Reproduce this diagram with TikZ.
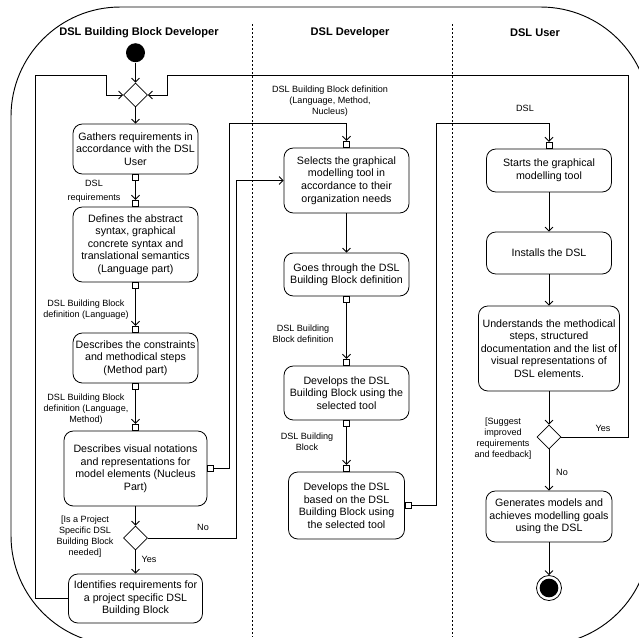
\documentclass[tikz,border=0pt]{standalone}
\usepackage{fontspec}
\setmainfont{Liberation Sans}
\usetikzlibrary{shapes.geometric,arrows.meta}

\begin{document}
\begin{tikzpicture}[x=0.75pt,y=-0.75pt,line width=0.6pt,
  >={Straight Barb[length=3pt,width=6pt]},
  act/.style={draw,rounded corners=7pt,align=center,inner sep=1pt,font=\fontsize{8}{9.4}\selectfont},
  pinbox/.style={draw,fill=white,minimum size=4.5pt,inner sep=0pt},
  decision/.style={draw,diamond,minimum size=18pt,inner sep=0pt},
  lbl/.style={align=center,font=\fontsize{6.8}{8.3}\selectfont},
  lane/.style={font=\bfseries\fontsize{8.3}{10}\selectfont},
  divider/.style={line width=0.5pt,dash pattern=on 1.5pt off 1.5pt}]
\useasboundingbox (0,0) rectangle (639,637);
\begin{scope}
\clip (0,0) rectangle (639,637);
\draw[line width=0.7pt,rounded corners=82pt] (11,7) rectangle (650,645);
\end{scope}
\draw[divider] (252.7,24) -- (252.7,637);
\draw[divider] (452.7,24) -- (452.7,637);
\node[lane] (laneBB) at (139,33) {DSL Building Block Developer};
\node[lane] (laneDev) at (350,33) {DSL Developer};
\node[lane] (laneUser) at (535,33) {DSL User};

% DSL Building Block Developer
\node[circle,fill,minimum size=14.25pt,inner sep=0pt] (start) at (135.5,52.7) {};
\node[decision] (merge) at (135.5,95) {};
\node[act,minimum width=93.75pt,minimum height=37.5pt] (gather) at (135.5,149) {Gathers requirements in\\accordance with the DSL\\User};
\node[act,minimum width=93.75pt,minimum height=56.25pt] (define) at (135.5,244.5) {Defines the abstract\\syntax, graphical\\concrete syntax and\\translational semantics\\(Language part)};
\node[act,minimum width=93.75pt,minimum height=37.5pt] (constr) at (135.5,358) {Describes the constraints\\and methodical steps\\(Method part)};
\node[act,minimum width=107.25pt,minimum height=56.25pt] (visual) at (135.5,468.5) {Describes visual notations\\and representations for\\model elements (Nucleus\\Part)};
\node[decision] (needed) at (135.5,538) {};
\node[act,minimum width=100.5pt,minimum height=36.75pt] (identify) at (135.5,598.5) {Identifies requirements for\\a project specific DSL\\Building Block};

\node[pinbox,anchor=north] (gatherOut) at (gather.south) {};
\node[pinbox,anchor=south] (defineIn) at (define.north) {};
\node[pinbox,anchor=north] (defineOut) at (define.south) {};
\node[pinbox,anchor=south] (constrIn) at (constr.north) {};
\node[pinbox,anchor=north] (constrOut) at (constr.south) {};
\node[pinbox,anchor=south] (visualIn) at (visual.north) {};
\node[pinbox,anchor=west] (visualOut) at (visual.east) {};

% DSL Developer
\node[act,minimum width=93.75pt,minimum height=48.75pt] (select) at (346.5,180.5) {Selects the graphical\\modelling tool in\\accordance to their\\organization needs};
\node[act,minimum width=93.75pt,minimum height=32.25pt] (goes) at (346.5,274.5) {Goes through the DSL\\Building Block definition};
\node[act,minimum width=93.75pt,minimum height=40.5pt] (devBB) at (346.5,393) {Develops the DSL\\Building Block using the\\selected tool};
\node[act,minimum width=87pt,minimum height=50.25pt] (devDSL) at (346.5,505.5) {Develops the DSL\\based on the DSL\\Building Block using\\the selected tool};

\node[pinbox,anchor=south] (selectIn) at (select.north) {};
\node[pinbox,anchor=north] (goesOut) at (goes.south) {};
\node[pinbox,anchor=south] (devBBIn) at (devBB.north) {};
\node[pinbox,anchor=north] (devBBOut) at (devBB.south) {};
\node[pinbox,anchor=south] (devDSLIn) at (devDSL.north) {};
\node[pinbox,anchor=west] (devDSLOut) at (devDSL.east) {};

% DSL User
\node[act,minimum width=93.75pt,minimum height=32.25pt] (starts) at (549,170.5) {Starts the graphical\\modelling tool};
\node[act,minimum width=93.75pt,minimum height=31.5pt] (installs) at (549,253) {Installs the DSL};
\node[act,minimum width=105.75pt,minimum height=63.75pt] (understand) at (549,348.5) {Understands the methodical\\steps, structured\\documentation and the list of\\visual representations of\\DSL elements.};
\node[decision] (suggest) at (549,437) {};
\node[act,minimum width=94.5pt,minimum height=38.25pt] (generate) at (549,516.5) {Generates models and\\achieves modelling goals\\using the DSL};
\node[circle,draw,minimum size=18.75pt,inner sep=0pt] (final) at (549,588) {};
\node[circle,fill,minimum size=14pt,inner sep=0pt] (finalDot) at (final) {};

\node[pinbox,anchor=south] (startsIn) at (starts.north) {};

% flows
\draw[->] (start) -- (merge);
\draw[->] (merge) -- (gather);
\draw[->] (gatherOut) -- (defineIn);
\draw[->] (defineOut) -- (constrIn);
\draw[->] (constrOut) -- (visualIn);
\draw[->] (visual) -- (needed);
\draw[->] (needed) -- (identify);
\draw[->] (needed.east) -- ++(88,0) |- (select.west);
\draw[->] (identify.west) -- ++(-33,0) |- (106,75) |- (merge.west);
\draw[->] (visualOut.east) -- ++(15,0) -- ++(0,-345) -| (selectIn.north);
\draw[->] (select) -- (goes);
\draw[->] (goesOut) -- (devBBIn);
\draw[->] (devBBOut) -- (devDSLIn);
\draw[->] (devDSLOut.east) -- ++(25,0) -- ++(0,-382) -| (startsIn.north);
\draw[->] (starts) -- (installs);
\draw[->] (installs) -- (understand);
\draw[->] (understand) -- (suggest);
\draw[->] (suggest) -- (generate);
\draw[->] (generate) -- (final);
\draw[->] (suggest.east) -- ++(67,0) |- (167,75) |- (merge.east);

% labels
\node[lbl] (lblReq) at (94,191.5) {DSL\\[2pt]requirements};
\node[lbl] (lblLang) at (86,309.5) {DSL Building Block\\definition (Language)};
\node[lbl] (lblLangMeth) at (86,409) {DSL Building Block\\definition (Language,\\Method)};
\node[lbl] (lblFull) at (330,101) {DSL Building Block definition\\(Language, Method,\\Nucleus)};
\node[lbl] (lblNeeded) at (85,537) {[Is a Project\\Specific DSL\\Building Block\\needed]};
\node[lbl] (lblNo1) at (203,527) {No};
\node[lbl] (lblYes1) at (149,559) {Yes};
\node[lbl] (lblDef) at (303,334) {DSL Building\\Block definition};
\node[lbl] (lblBB) at (307,442) {DSL Building\\Block};
\node[lbl] (lblDSL) at (525,108) {DSL};
\node[lbl] (lblSuggest) at (503,439) {[Suggest\\improved\\requirements\\and feedback]};
\node[lbl] (lblYes2) at (603,428) {Yes};
\node[lbl] (lblNo2) at (562,472) {No};
\end{tikzpicture}
\end{document}
